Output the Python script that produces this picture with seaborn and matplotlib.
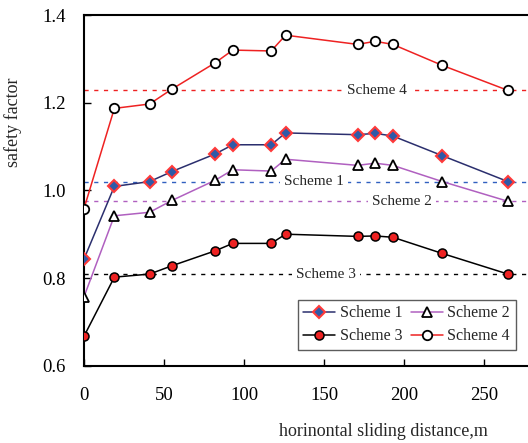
import pandas as pd
import matplotlib
matplotlib.use('Agg')
import matplotlib.pyplot as plt
import seaborn as sns

# horizontal sliding distance (m)
distance = [0, 19, 41, 55, 82, 93, 117, 126, 171, 182, 193, 224, 265]

scheme1 = [0.843, 1.009, 1.020, 1.043, 1.083, 1.104, 1.104, 1.131, 1.127, 1.130, 1.124, 1.079, 1.020]
scheme2 = [0.757, 0.942, 0.950, 0.977, 1.023, 1.047, 1.044, 1.071, 1.057, 1.062, 1.057, 1.020, 0.975]
scheme3 = [0.667, 0.802, 0.809, 0.828, 0.862, 0.879, 0.879, 0.900, 0.895, 0.896, 0.893, 0.856, 0.809]
scheme4 = [0.958, 1.187, 1.197, 1.231, 1.291, 1.320, 1.318, 1.354, 1.333, 1.340, 1.333, 1.285, 1.228]

# reference levels (dotted lines) and where their labels sit
ref_levels = {'Scheme 4': 1.228, 'Scheme 1': 1.020, 'Scheme 2': 0.975, 'Scheme 3': 0.809}
ref_label_x = {'Scheme 4': 183, 'Scheme 1': 144, 'Scheme 2': 199, 'Scheme 3': 151}

sns.set_theme(style='ticks')
plt.rcParams['font.family'] = ['Liberation Serif', 'DejaVu Serif']

fig = plt.figure(figsize=(5.28, 4.43), dpi=100)
ax = fig.add_axes([0.159, 0.1745, 0.841, 0.7916])

styles = {
    'Scheme 1': dict(y=scheme1, color='#2b2f6e', marker='D', mfc='#2f5aa8', mec='#ff3a3a', ms=6.2, mew=1.5),
    'Scheme 2': dict(y=scheme2, color='#b060c0', marker='^', mfc='white', mec='black', ms=7, mew=1.3),
    'Scheme 3': dict(y=scheme3, color='black', marker='o', mfc='#ee2222', mec='black', ms=6.5, mew=1.1),
    'Scheme 4': dict(y=scheme4, color='#ee2222', marker='o', mfc='white', mec='black', ms=6.8, mew=1.3),
}

for name, st in styles.items():
    sns.lineplot(x=distance, y=st['y'], ax=ax, color=st['color'], lw=1.1,
                 marker=st['marker'], markerfacecolor=st['mfc'], markeredgecolor=st['mec'],
                 markersize=st['ms'], markeredgewidth=st['mew'], label=name, zorder=3)

ref_colors = {'Scheme 4': '#ee2222', 'Scheme 1': '#3060c0', 'Scheme 2': '#b060c0', 'Scheme 3': 'black'}
for name, lvl in ref_levels.items():
    ax.axhline(lvl, color=ref_colors[name], lw=1.0, ls=(0, (3, 4)), zorder=1)
    ax.text(ref_label_x[name], lvl, name, fontsize=11, ha='center', va='center',
            bbox=dict(facecolor='white', edgecolor='none', pad=3.0), zorder=2)

ax.set_xlim(0, 277.5)
ax.set_ylim(0.6, 1.4)
ax.set_xticks([0, 50, 100, 150, 200, 250])
ax.set_yticks([0.6, 0.8, 1.0, 1.2, 1.4])
ax.set_yticklabels(['0.6', '0.8', '1.0', '1.2', '1.4'])
ax.tick_params(direction='in', length=5, width=1, labelsize=13.5, colors='black')
ax.tick_params(axis='x', pad=15)
ax.tick_params(axis='y', pad=13)
for side in ['left', 'bottom', 'top']:
    ax.spines[side].set_linewidth(1.5)
    ax.spines[side].set_color('black')
ax.spines['right'].set_visible(False)

ax.set_xlabel('horinontal sliding distance,m', fontsize=13)
ax.xaxis.set_label_coords(0.675, -0.163)
ax.set_ylabel('safety factor', fontsize=13)
ax.yaxis.set_label_coords(-0.14, 0.695)

# row-major legend order: Scheme 1, Scheme 2 / Scheme 3, Scheme 4
handles, labels = ax.get_legend_handles_labels()
order = [0, 2, 1, 3]
leg = ax.legend([handles[i] for i in order], [labels[i] for i in order],
                loc='lower right', bbox_to_anchor=(0.972, 0.045), ncol=2, fontsize=11.5,
                frameon=True, fancybox=False, edgecolor='#333333', handlelength=2.0,
                columnspacing=0.5, handletextpad=0.3, borderpad=0.35, labelspacing=0.45,
                borderaxespad=0)
leg.get_frame().set_linewidth(1.0)

fig.savefig('out.png', dpi=100)
